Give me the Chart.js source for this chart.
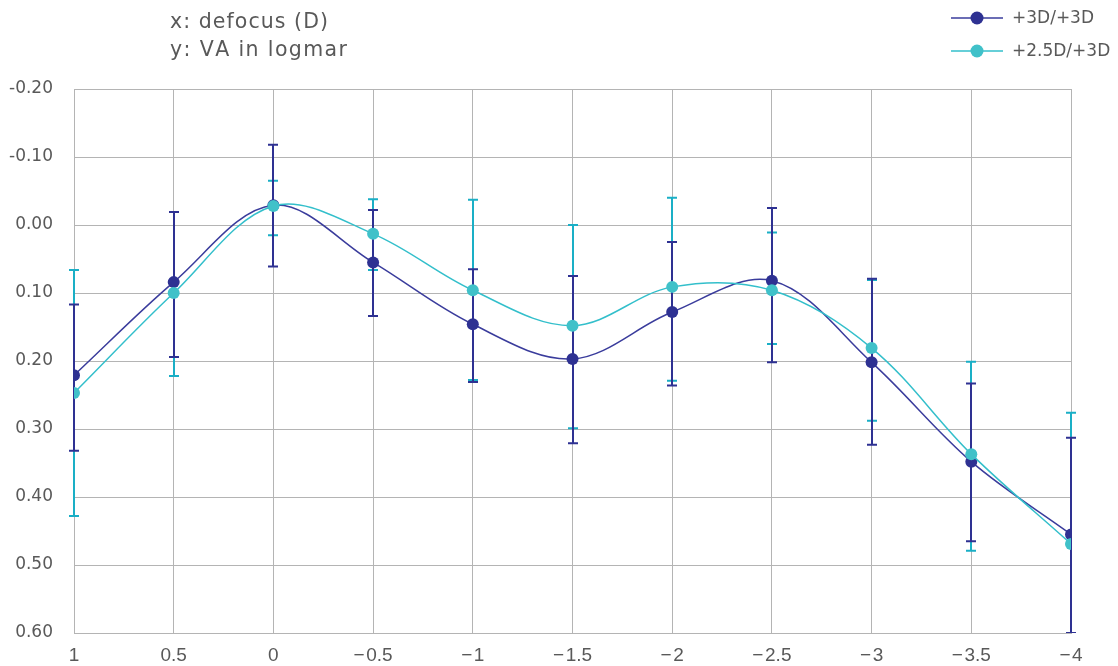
<!DOCTYPE html>
<html>
<head>
<meta charset="utf-8">
<title>Defocus curve</title>
<script src="https://cdn.jsdelivr.net/npm/chart.js@4.4.1/dist/chart.umd.min.js"></script>
<style>
  html, body { margin: 0; padding: 0; background: #ffffff; }
  #wrap { width: 1118px; height: 666px; position: relative; }
</style>
</head>
<body>
<div id="wrap"><canvas id="chart"></canvas></div>
<script>
// Defocus (D) on the x axis, visual acuity (logMAR) on the y axis
const defocus = [1, 0.5, 0, -0.5, -1, -1.5, -2, -2.5, -3, -3.5, -4];

// +3D/+3D
const va3 = [0.221, 0.084, -0.029, 0.055, 0.146, 0.197, 0.128, 0.082, 0.202, 0.348, 0.455];
const va3ErrMinus = [0.104, 0.103, 0.089, 0.077, 0.081, 0.122, 0.103, 0.107, 0.123, 0.115, 0.142];
const va3ErrPlus = [0.111, 0.110, 0.090, 0.079, 0.085, 0.124, 0.108, 0.120, 0.121, 0.117, 0.145];

// +2.5D/+3D
const va25 = [0.247, 0.100, -0.028, 0.013, 0.096, 0.148, 0.091, 0.096, 0.181, 0.337, 0.469];
const va25ErrMinus = [0.181, 0.119, 0.037, 0.051, 0.133, 0.148, 0.131, 0.085, 0.100, 0.136, 0.193];
const va25ErrPlus = [0.181, 0.122, 0.043, 0.053, 0.132, 0.151, 0.138, 0.079, 0.107, 0.142, 0.193];

const seriesLabels = ['+3D/+3D', '+2.5D/+3D'];
const headerLines = ['x: defocus (D)', 'y: VA in logmar'];
const xTicks = [1, 0.5, 0, -0.5, -1, -1.5, -2, -2.5, -3, -3.5, -4];
const yTicks = [-0.2, -0.1, 0, 0.1, 0.2, 0.3, 0.4, 0.5, 0.6];

const DARK = '#2e3192';
const DARK_LINE = '#3a3c9c';
const CYAN = '#40c1c9';
const CYAN_LINE = '#33bfcb';
const CYAN_ERR = '#1aafc6';
const GRID = '#b4b4b4';
const TEXT = '#595959';
const UI_FONT = '"DejaVu Sans", sans-serif';

const toPoints = (vals) => vals.map((v, i) => ({ x: defocus[i], y: v }));

// Draws text letter by letter, spreading it to at least the given total width
function spacedText(ctx, text, x, y, width) {
  const chars = Array.from(text);
  const natural = chars.reduce((s, c) => s + ctx.measureText(c).width, 0);
  const gap = chars.length > 1 ? Math.max(0, (width - natural) / (chars.length - 1)) : 0;
  let cx = x;
  chars.forEach((c) => {
    ctx.fillText(c, cx, y);
    cx += ctx.measureText(c).width + gap;
  });
}

// Vertical error bars with caps, drawn under the lines and markers
const errorBars = {
  id: 'errorBars',
  beforeDatasetsDraw(chart) {
    const { ctx, chartArea: a, scales: { x, y } } = chart;
    ctx.save();
    ctx.beginPath();
    ctx.rect(a.left - 30, a.top, a.right - a.left + 60, a.bottom - a.top);
    ctx.clip();
    const drawOrder = [1, 0];
    drawOrder.forEach((di) => {
      const ds = chart.data.datasets[di];
      ctx.strokeStyle = ds.errColor;
      ctx.lineWidth = 2;
      ds.data.forEach((p, i) => {
        const px = Math.round(x.getPixelForValue(p.x));
        const top = y.getPixelForValue(p.y - ds.errMinus[i]);
        const bot = y.getPixelForValue(p.y + ds.errPlus[i]);
        ctx.beginPath();
        ctx.moveTo(px, top);
        ctx.lineTo(px, bot);
        ctx.moveTo(px - 5, top);
        ctx.lineTo(px + 5, top);
        ctx.moveTo(px - 5, bot);
        ctx.lineTo(px + 5, bot);
        ctx.stroke();
      });
    });
    ctx.restore();
  }
};

// Axis description in the top-left corner and the series key in the top-right corner
const annotations = {
  id: 'annotations',
  afterDraw(chart) {
    const { ctx } = chart;
    ctx.save();
    ctx.fillStyle = TEXT;
    ctx.font = '20.5px ' + UI_FONT;
    ctx.textBaseline = 'alphabetic';
    ctx.textAlign = 'left';
    spacedText(ctx, headerLines[0], 170, 28, 158);
    spacedText(ctx, headerLines[1], 170, 56, 177);

    const rows = [18, 51];
    chart.data.datasets.forEach((ds, i) => {
      const yy = rows[i];
      ctx.strokeStyle = ds.borderColor;
      ctx.lineWidth = 1.5;
      ctx.beginPath();
      ctx.moveTo(951, yy);
      ctx.lineTo(1003, yy);
      ctx.stroke();
      ctx.fillStyle = ds.pointBackgroundColor;
      ctx.beginPath();
      ctx.arc(977, yy, 6.5, 0, Math.PI * 2);
      ctx.fill();
      ctx.fillStyle = TEXT;
      ctx.font = '17px ' + UI_FONT;
      ctx.textBaseline = 'middle';
      ctx.fillText(ds.label, 1012, yy + 1);
    });
    ctx.restore();
  }
};

new Chart(document.getElementById('chart'), {
  type: 'line',
  data: {
    datasets: [
      {
        label: seriesLabels[0],
        data: toPoints(va3),
        errMinus: va3ErrMinus,
        errPlus: va3ErrPlus,
        errColor: DARK,
        borderColor: DARK_LINE,
        backgroundColor: DARK,
        pointBackgroundColor: DARK,
        pointBorderWidth: 0,
        pointRadius: 6,
        borderWidth: 1.5,
        tension: 0.35,
        order: 1
      },
      {
        label: seriesLabels[1],
        data: toPoints(va25),
        errMinus: va25ErrMinus,
        errPlus: va25ErrPlus,
        errColor: CYAN_ERR,
        borderColor: CYAN_LINE,
        backgroundColor: CYAN,
        pointBackgroundColor: CYAN,
        pointBorderWidth: 0,
        pointRadius: 6,
        borderWidth: 1.5,
        tension: 0.35,
        order: 0
      }
    ]
  },
  options: {
    responsive: true,
    maintainAspectRatio: false,
    animation: false,
    devicePixelRatio: 1,
    layout: { padding: { top: 89, right: 47, left: 0, bottom: 0 } },
    plugins: {
      legend: { display: false },
      title: { display: false },
      tooltip: { enabled: false }
    },
    scales: {
      x: {
        type: 'linear',
        reverse: true,
        min: -4,
        max: 1,
        afterBuildTicks: (s) => { s.ticks = xTicks.map((v) => ({ value: v })); },
        afterFit: (s) => { s.height = 33; },
        grid: { color: GRID, lineWidth: 1, drawTicks: false },
        border: { color: GRID, width: 1 },
        ticks: {
          padding: 11,
          color: TEXT,
          font: { family: '"Liberation Sans", sans-serif', size: 19 },
          callback: (v) => (v < 0 ? '\u2212\u200a' + String(Math.abs(v)) : String(v))
        }
      },
      y: {
        type: 'linear',
        reverse: true,
        min: -0.2,
        max: 0.6,
        afterBuildTicks: (s) => { s.ticks = yTicks.map((v) => ({ value: v })); },
        afterFit: (s) => { s.width = 74; },
        grid: { color: GRID, lineWidth: 1, drawTicks: false },
        border: { color: GRID, width: 1 },
        ticks: {
          padding: 21,
          color: TEXT,
          font: { family: UI_FONT, size: 17 },
          callback: (v) => (Math.round(v * 100) / 100 + 0).toFixed(2)
        }
      }
    }
  },
  plugins: [errorBars, annotations]
});
</script>
</body>
</html>
